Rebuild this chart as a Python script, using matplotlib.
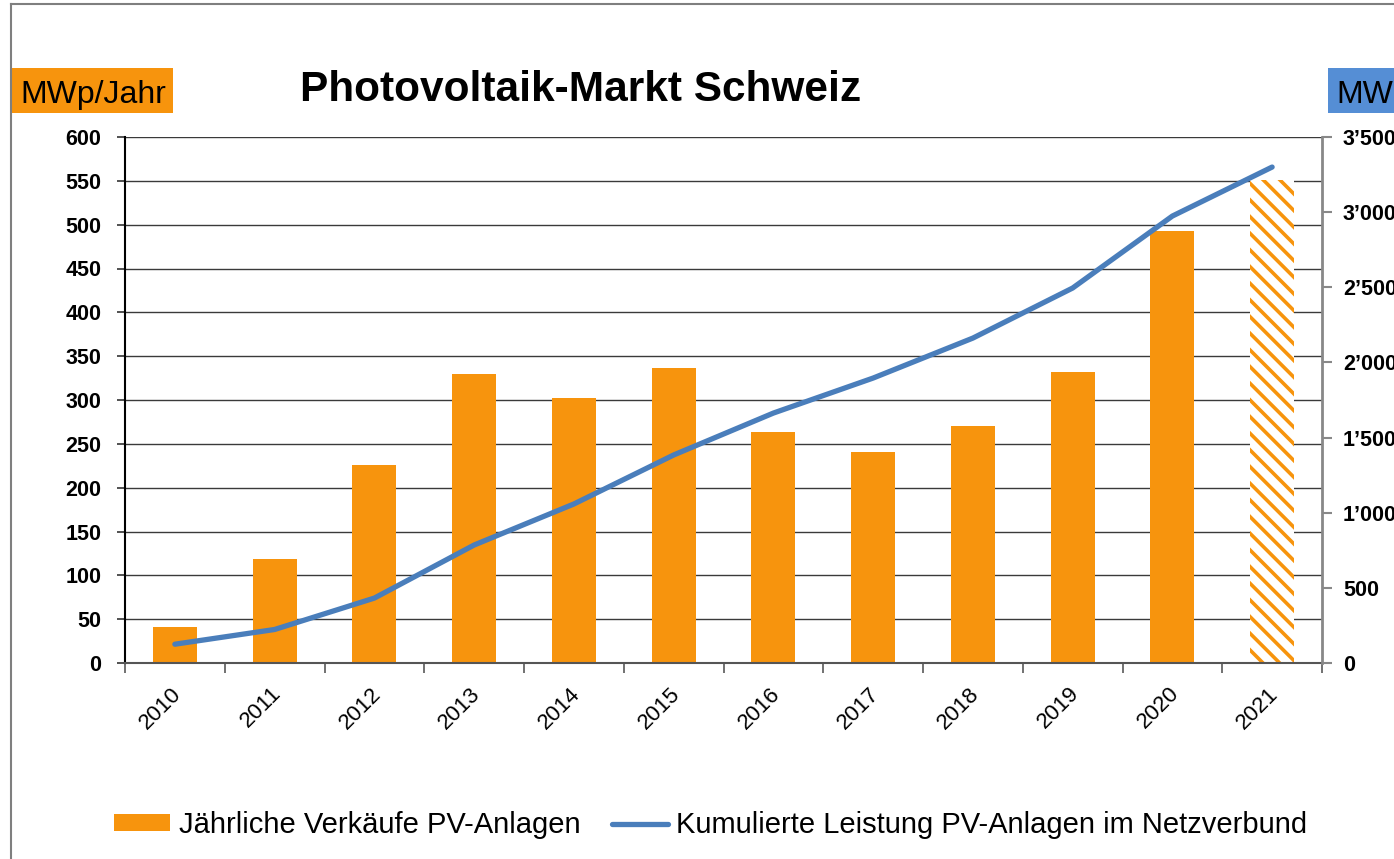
import matplotlib
matplotlib.use("Agg")
import matplotlib.pyplot as plt
from matplotlib.patches import Rectangle
from matplotlib.lines import Line2D
from matplotlib.transforms import ScaledTranslation
import numpy as np

plt.rcParams['font.family'] = ['Liberation Sans', 'DejaVu Sans']
plt.rcParams['hatch.linewidth'] = 2.6

years = ['2010', '2011', '2012', '2013', '2014', '2015', '2016', '2017', '2018', '2019', '2020', '2021']
annual_mwp = [41, 119, 226, 330, 302, 337, 263, 241, 270, 332, 493, 551]
estimated = [False] * 11 + [True]
cumulative_mw = [125, 223, 432, 785, 1058, 1384, 1663, 1896, 2162, 2495, 2974, 3300]

left_ticks = list(range(0, 601, 50))
right_ticks = list(range(0, 3501, 500))
right_labels = ['0', '500', '1\u2019000', '1\u2019500', '2\u2019000', '2\u2019500', '3\u2019000', '3\u2019500']

title = 'Photovoltaik-Markt Schweiz'
left_unit = 'MWp/Jahr'
right_unit = 'MW'
bar_label = 'J\u00e4hrliche Verk\u00e4ufe PV-Anlagen'
line_label = 'Kumulierte Leistung PV-Anlagen im Netzverbund'

ORANGE = '#F7940D'
BLUE = '#4A7EBB'
BOX_BLUE = '#558ED5'

W, H = 1394, 859
fig = plt.figure(figsize=(W / 100, H / 100), dpi=100)

def fx(px):
    return px / W

def fy(py):
    return 1 - py / H

ax = fig.add_axes([fx(125), fy(663), fx(1322) - fx(125), fy(137) - fy(663)])
x = np.arange(len(years))

for xi, v, est in zip(x, annual_mwp, estimated):
    if est:
        ax.bar(xi, v, width=0.44, facecolor='white', edgecolor=ORANGE, hatch='\\\\', linewidth=0, zorder=2)
    else:
        ax.bar(xi, v, width=0.44, color=ORANGE, linewidth=0, zorder=2)

ax.set_xlim(-0.5, len(years) - 0.5)
ax.set_ylim(0, 600)
ax.set_yticks(left_ticks)
ax.set_yticklabels([str(t) for t in left_ticks], fontsize=15.5, fontweight='bold')
ax.yaxis.grid(True, color='#3a3a3a', linewidth=1.0)
ax.set_axisbelow(True)
ax.tick_params(axis='y', length=6, width=1.2, color='#333333', pad=11)

ax.set_xticks(x)
ax.set_xticklabels(years, fontsize=16, rotation=45, ha='right', va='top', rotation_mode='anchor')
ax.set_xticks(np.arange(-0.5, len(years), 1.0), minor=True)
ax.tick_params(axis='x', which='major', length=0, pad=8)
ax.tick_params(axis='x', which='minor', length=7, width=1.3, color='#666666')
offset = ScaledTranslation(-4 / 100, -9 / 100, fig.dpi_scale_trans)
for lab in ax.get_xticklabels():
    lab.set_transform(lab.get_transform() + offset)

for s in ['top', 'right']:
    ax.spines[s].set_visible(False)
ax.spines['left'].set_color('black')
ax.spines['left'].set_linewidth(1.5)
ax.spines['bottom'].set_color('#555555')
ax.spines['bottom'].set_linewidth(1.5)

ax2 = ax.twinx()
ax2.plot(x, cumulative_mw, color=BLUE, linewidth=3.8, solid_capstyle='round', zorder=3)
ax2.set_ylim(0, 3500)
ax2.set_yticks(right_ticks)
ax2.set_yticklabels(right_labels, fontsize=15.5, fontweight='bold')
ax2.tick_params(axis='y', length=7, width=1.5, color='#888888', pad=8)
for s in ['top', 'left', 'bottom']:
    ax2.spines[s].set_visible(False)
ax2.spines['right'].set_color('#888888')
ax2.spines['right'].set_linewidth(2)

# outer frame
fig.add_artist(Line2D([fx(11), fx(11)], [fy(4), -0.1], color='#7f7f7f', linewidth=1.5))
fig.add_artist(Line2D([fx(11), 1.1], [fy(4), fy(4)], color='#7f7f7f', linewidth=1.5))

# title
fig.text(fx(581), fy(101), title, ha='center', va='baseline', fontsize=30.5, fontweight='bold')

# unit boxes
fig.add_artist(Rectangle((fx(12), fy(113)), fx(173) - fx(12), fy(68) - fy(113), transform=fig.transFigure,
                         facecolor=ORANGE, edgecolor='none'))
fig.text(fx(20), fy(103), left_unit, ha='left', va='baseline', fontsize=23)
fig.add_artist(Rectangle((fx(1328), fy(113)), 0.2, fy(68) - fy(113), transform=fig.transFigure,
                         facecolor=BOX_BLUE, edgecolor='none'))
fig.text(fx(1336), fy(103), right_unit, ha='left', va='baseline', fontsize=23)

# legend
handles = [Rectangle((0, 0), 1, 1, facecolor=ORANGE, edgecolor='none'),
           Line2D([0], [0], color=BLUE, linewidth=3.8, solid_capstyle='round')]
fig.legend(handles, [bar_label, line_label], loc='center', bbox_to_anchor=(fx(711), fy(825)),
           ncol=2, frameon=False, fontsize=21, handlelength=1.9, handleheight=0.5,
           handletextpad=0.3, columnspacing=1.1, borderpad=0)

fig.savefig('out.png', dpi=100)
